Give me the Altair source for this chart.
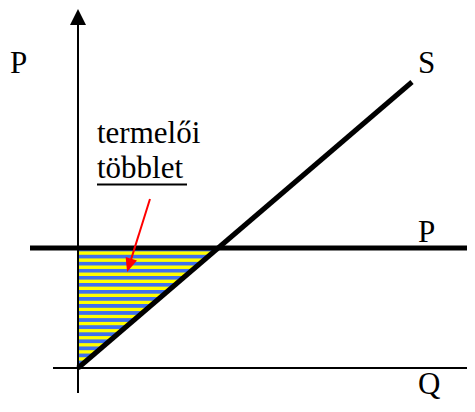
import altair as alt
import pandas as pd

# ---- data (chart units: 1 unit = 20 px) ----
S_Q = [0, 16.7]            # supply curve S
S_P = [0, 14.3]
P_LEVEL = 6.0              # price line P
P_LINE_Q = [-2.4, 19.9]
SURPLUS_Q = [0, 7.0]       # producer surplus triangle (under P, above S)
SURPLUS_S = [0, 6.0]
AXIS_Q = [-1.25, 19.6]     # horizontal axis extent
AXIS_P = [-1.25, 17.2]     # vertical axis extent
ARROW_HEADS_Q = [0, 20.0]
ARROW_HEADS_P = [17.55, 0]
ARROW_HEADS_ANGLE = [0, 90]
POINTER_Q = [3.6, 2.56]    # red pointer arrow
POINTER_P = [8.45, 5.13]
POINTER_HEAD = (2.56, 5.13, 197.5)
LABELS = ["P", "S", "termelői", "többlet", "P", "Q"]
LABEL_Q = [-3.4, 17.0, 0.95, 0.95, 17.0, 17.0]
LABEL_P = [14.75, 14.75, 11.25, 9.5, 6.3, -1.3]
UNDERLINE_Q = [0.95, 5.45]
UNDERLINE_P = 9.18

W, H = 459, 392
XDOM = [-3.5, -3.5 + W / 20]
YDOM = [18 - H / 20, 18]
FONT = "Liberation Serif, Times New Roman, Times, DejaVu Serif, serif"

def X(f="q"):
    return alt.X(f, type="quantitative", scale=alt.Scale(domain=XDOM, nice=False, zero=False), axis=None)

def Y(f="p"):
    return alt.Y(f, type="quantitative", scale=alt.Scale(domain=YDOM, nice=False, zero=False), axis=None)

n = 17
stops = []
for i in range(n):
    a = i / n
    d = 1 / n
    stops += [
        alt.GradientStop(color="#3F6FEF", offset=a),
        alt.GradientStop(color="#3F6FEF", offset=a + 0.4 * d),
        alt.GradientStop(color="#FFFF00", offset=a + 0.55 * d),
        alt.GradientStop(color="#FFFF00", offset=a + 0.9 * d),
        alt.GradientStop(color="#3F6FEF", offset=min(a + d, 1.0)),
    ]
grad = alt.LinearGradient(gradient="linear", stops=stops, x1=0, x2=0, y1=0, y2=1)

surplus_df = pd.DataFrame({"q": SURPLUS_Q, "p": SURPLUS_S, "top": [P_LEVEL] * 2})
surplus = alt.Chart(surplus_df).mark_area(color=grad).encode(x=X(), y=Y(), y2="top:Q")

s_line = alt.Chart(pd.DataFrame({"q": S_Q, "p": S_P})).mark_line(
    color="black", strokeWidth=5, strokeCap="butt").encode(x=X(), y=Y())

p_line = alt.Chart(pd.DataFrame({"q": [P_LINE_Q[0]], "q2": [P_LINE_Q[1]], "p": [P_LEVEL]})).mark_rule(
    color="black", strokeWidth=5).encode(x=X(), x2="q2:Q", y=Y())

h_axis = alt.Chart(pd.DataFrame({"q": [AXIS_Q[0]], "q2": [AXIS_Q[1]], "p": [0]})).mark_rule(
    color="black", strokeWidth=2).encode(x=X(), x2="q2:Q", y=Y())
v_axis = alt.Chart(pd.DataFrame({"q": [0], "p": [AXIS_P[0]], "p2": [AXIS_P[1]]})).mark_rule(
    color="black", strokeWidth=2).encode(x=X(), y=Y(), y2="p2:Q")

heads = alt.Chart(pd.DataFrame({"q": ARROW_HEADS_Q, "p": ARROW_HEADS_P, "a": ARROW_HEADS_ANGLE})).mark_point(
    shape="M0,-1L-1,1L1,1Z", size=256, filled=True, color="black", opacity=1, strokeWidth=0
).encode(x=X(), y=Y(), angle=alt.Angle("a:Q", scale=None))

pointer = alt.Chart(pd.DataFrame({"q": POINTER_Q, "p": POINTER_P})).mark_line(
    color="#FF0000", strokeWidth=2).encode(x=X(), y=Y())
pointer_head = alt.Chart(pd.DataFrame({"q": [POINTER_HEAD[0]], "p": [POINTER_HEAD[1]]})).mark_point(
    shape="M0,-1L-0.85,1L0.85,1Z", size=196, filled=True, color="#FF0000", opacity=1,
    strokeWidth=0, angle=POINTER_HEAD[2]).encode(x=X(), y=Y())

labels = alt.Chart(pd.DataFrame({"q": LABEL_Q, "p": LABEL_P, "t": LABELS})).mark_text(
    font=FONT, fontSize=31, color="black", align="left", baseline="alphabetic"
).encode(x=X(), y=Y(), text="t:N")

underline = alt.Chart(pd.DataFrame({"q": [UNDERLINE_Q[0]], "q2": [UNDERLINE_Q[1]], "p": [UNDERLINE_P]})).mark_rule(
    color="black", strokeWidth=2).encode(x=X(), x2="q2:Q", y=Y())

chart = alt.layer(
    surplus, s_line, p_line, h_axis, v_axis, heads, pointer, pointer_head, labels, underline
).properties(
    width=W, height=H, autosize=alt.AutoSizeParams(type="none"), padding=0
).configure_view(stroke=None)

chart.save("out.html", embed_options={"renderer": "svg", "actions": False})
